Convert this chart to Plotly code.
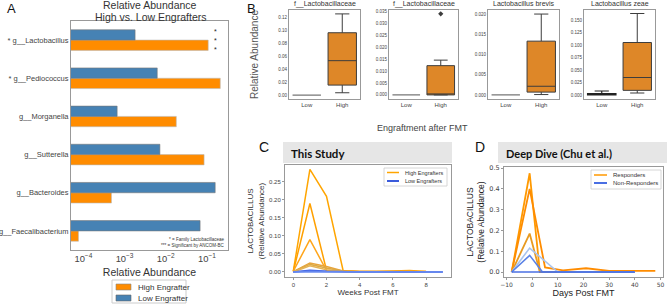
import plotly.graph_objects as go

W, H = 667, 305
def fx(p): return p / W
def fy(p): return 1 - p / H

# ---------------- Panel A data ----------------
taxa = ["g__Faecalibacterium", "g__Bacteroides", "g__Sutterella",
        "g__Morganella", "* g__Pediococcus", "* g__Lactobacillus"]
high_engrafter = [7.6e-5, 4.8e-4, 0.085, 0.018, 0.21, 0.107]
low_engrafter = [0.068, 0.158, 0.0072, 6.6e-4, 0.0062, 0.0018]
legend_a = ["High Engrafter", "Low Engrafter"]

# ---------------- Panel B data ----------------
box_titles = ["f__Lactobacillaceae", "f__Lactobacillaceae",
              "Lactobacillus brevis", "Lactobacillus zeae"]
groups = ["Low", "High"]
# [lowerfence, q1, median, q3, upperfence]
low_stats = [[0, 0, 0, 0, 0], [0, 0, 0, 0, 0], [0, 0, 0, 0, 0],
             [0, 0.0002, 0.001, 0.003, 0.008]]
high_stats = [[0.0036, 0.0154, 0.053, 0.096, 0.125],
              [0.0, 0.0, 0.0003, 0.0122, 0.0145],
              [0.0001, 0.0007, 0.00215, 0.0133, 0.020],
              [0.004, 0.0093, 0.035, 0.105, 0.163]]
high_outliers = [[], [0.0338], [], []]
box_yranges = [[-0.006, 0.131], [-0.0017, 0.0354], [-0.001, 0.021], [-0.008, 0.17]]
box_dticks = [0.02, 0.005, 0.005, 0.025]
box_tickfmt = [".2f", ".3f", ".3f", ".3f"]

# ---------------- Panel C data ----------------
weeks = [0, 1, 2, 3, 4, 5, 6, 7, 8]
weeks_low = [0, 1, 2, 3, 4, 5, 6, 7, 8, 9]
study_high = [
    [0.002, 0.285, 0.21, 0.004, 0.001, 0.001, 0.002, 0.002, 0.001],
    [0.001, 0.19, 0.005, 0.002, 0.001, 0.001, 0.003, 0.004, 0.001],
    [0.002, 0.09, 0.004, 0.001, 0.0, 0.0, 0.001, 0.001, 0.0],
    [0.001, 0.025, 0.015, 0.003, 0.001, 0.0, 0.001, 0.001, 0.0],
    [0.001, 0.021, 0.011, 0.002, 0.0, 0.0, 0.0, 0.001, 0.0],
    [0.0, 0.017, 0.006, 0.001, 0.0, 0.0, 0.0, 0.0, 0.0],
]
study_low = [
    [0.0, 0.005, 0.002, 0.0, 0.0, 0.0, 0.0, 0.0, 0.0, 0.0],
    [0.0, 0.003, 0.001, 0.0, 0.0, 0.0, 0.0, 0.0, 0.0, 0.0],
    [0.0, 0.001, 0.0, 0.0, 0.0, 0.0, 0.0, 0.0, 0.0, 0.0],
]
legend_c = ["High Engrafters", "Low Engrafters"]

# ---------------- Panel D data ----------------
resp_days = [[-8, -1, 3, 40], [-8, -1, 5, 12, 21, 30, 48], [-8, -1, 3, 40]]
resp_vals = [[0, 0.475, 0, 0], [0, 0.40, 0.022, 0.008, 0.018, 0.005, 0.005],
             [0, 0.185, 0, 0]]
nonresp_days = [[-8, -1, 10, 40], [-8, -1, 4, 40], [-8, 40]]
nonresp_vals = [[0, 0.115, 0, 0], [0, 0.08, 0, 0], [0, 0]]
legend_d = ["Responders", "Non-Responders"]

ORANGE = "#FF8C00"
BLUE = "#4682B4"
BOX_OR = "#DE8728"
GRAY_TXT = "#444444"

fig = go.Figure()

# ---- Panel A bars
fig.add_trace(go.Bar(y=taxa, x=high_engrafter, orientation="h", name=legend_a[0],
                     marker=dict(color=ORANGE, line=dict(color="#BBBBBB", width=0.6)),
                     xaxis="x", yaxis="y", showlegend=False))
fig.add_trace(go.Bar(y=taxa, x=low_engrafter, orientation="h", name=legend_a[1],
                     marker=dict(color=BLUE, line=dict(color="#777777", width=0.6)),
                     xaxis="x", yaxis="y", showlegend=False))

# ---- Panel B boxes
for i in range(4):
    ax = str(i + 2)
    ls, hs = low_stats[i], high_stats[i]
    low_fill = "#1C2741" if i == 3 else "#888888"
    low_line = "#222222" if i == 3 else "#777777"
    fig.add_trace(go.Box(x=["Low"], lowerfence=[ls[0]], q1=[ls[1]], median=[ls[2]],
                         q3=[ls[3]], upperfence=[ls[4]], fillcolor=low_fill,
                         line=dict(color=low_line, width=1.2), width=0.8,
                         showlegend=False, xaxis="x" + ax, yaxis="y" + ax, hoverinfo="skip"))
    fig.add_trace(go.Box(x=["High"], lowerfence=[hs[0]], q1=[hs[1]], median=[hs[2]],
                         q3=[hs[3]], upperfence=[hs[4]], fillcolor=BOX_OR,
                         line=dict(color="#3D3D3D", width=1), width=0.8,
                         showlegend=False, xaxis="x" + ax, yaxis="y" + ax, hoverinfo="skip"))
    if high_outliers[i]:
        fig.add_trace(go.Scatter(x=["High"] * len(high_outliers[i]), y=high_outliers[i],
                                 mode="markers", marker=dict(symbol="diamond", size=4, color="#3D3D3D"),
                                 showlegend=False, xaxis="x" + ax, yaxis="y" + ax))

# ---- Panel C lines
high_cols = ["#FFA500", "#FFA000", "#FFA51A", "#E8A33C", "#DDAA44", "#E5B255"]
for k, v in enumerate(study_high):
    fig.add_trace(go.Scatter(x=weeks, y=v, mode="lines", name=legend_c[0],
                             line=dict(color=high_cols[k], width=1.5),
                             showlegend=False, xaxis="x6", yaxis="y6"))
low_cols = ["#3B5BDB", "#5577EE", "#6B8CEF"]
for k, v in enumerate(study_low):
    fig.add_trace(go.Scatter(x=weeks_low, y=v, mode="lines", name=legend_c[1],
                             line=dict(color=low_cols[k], width=1.5),
                             showlegend=False, xaxis="x6", yaxis="y6"))

# ---- Panel D lines
resp_cols = ["#FF9900", "#FF8C00", "#E89A20"]
for k in range(len(resp_days)):
    fig.add_trace(go.Scatter(x=resp_days[k], y=resp_vals[k], mode="lines", name=legend_d[0],
                             line=dict(color=resp_cols[k], width=1.8),
                             showlegend=False, xaxis="x7", yaxis="y7"))
nonresp_cols = ["#A9C4EE", "#5A82E6", "#4A6FE3"]
for k in range(len(nonresp_days)):
    fig.add_trace(go.Scatter(x=nonresp_days[k], y=nonresp_vals[k], mode="lines", name=legend_d[1],
                             line=dict(color=nonresp_cols[k], width=1.6),
                             showlegend=False, xaxis="x7", yaxis="y7"))

axis_line = dict(showline=True, linecolor="#999999", linewidth=1, mirror=True,
                 showgrid=False, zeroline=False, automargin=False)

layout = dict(
    width=W, height=H, margin=dict(l=0, r=0, t=0, b=0, autoexpand=False),
    paper_bgcolor="white", plot_bgcolor="white", showlegend=False,
    font=dict(family="Liberation Sans, Arial, sans-serif", color=GRAY_TXT),
    barmode="group", bargap=0.46, bargroupgap=0.0,
    xaxis=dict(domain=[fx(71), fx(228)], anchor="y", type="log", range=[-4.3, -0.49],
               dtick=1, exponentformat="power", ticks="", tickfont=dict(size=7.5, color=GRAY_TXT),
               title=dict(text="Relative Abundance", font=dict(size=10.5, color="#333333"), standoff=5),
               **axis_line),
    yaxis=dict(domain=[fy(250), fy(21)], anchor="x", type="category",
               categoryorder="array", categoryarray=taxa, ticks="",
               tickfont=dict(size=7.5, color=GRAY_TXT), range=[-0.5, 5.5], **axis_line),
)

box_x = [(289, 360), (389, 458), (488, 559), (584, 655)]
for i in range(4):
    n = i + 2
    layout["xaxis%d" % n] = dict(domain=[fx(box_x[i][0]), fx(box_x[i][1])], anchor="y%d" % n,
                                 type="category", categoryorder="array", categoryarray=groups,
                                 range=[-0.5, 1.5], ticks="", tickfont=dict(size=6, color=GRAY_TXT),
                                 **axis_line)
    layout["yaxis%d" % n] = dict(domain=[fy(99), fy(10)], anchor="x%d" % n,
                                 range=box_yranges[i], dtick=box_dticks[i], tick0=0,
                                 tickformat=box_tickfmt[i], ticks="",
                                 tickfont=dict(size=4.5, color=GRAY_TXT), **axis_line)

layout["xaxis6"] = dict(domain=[fx(285), fx(451)], anchor="y6", range=[-0.5, 9.5], dtick=2,
                        ticks="outside", ticklen=2, tickcolor="#999999",
                        tickfont=dict(size=6, color=GRAY_TXT),
                        title=dict(text="Weeks Post FMT", font=dict(size=8, color="#333333"), standoff=1),
                        **axis_line)
layout["yaxis6"] = dict(domain=[fy(277), fy(165)], anchor="x6", range=[-0.014, 0.297], dtick=0.05,
                        tickformat=".2f", ticks="outside", ticklen=2, tickcolor="#999999",
                        tickfont=dict(size=6, color=GRAY_TXT),
                        title=dict(text="LACTOBACILLUS<br>(Relative Abundance)",
                                   font=dict(size=8, color="#333333"), standoff=3),
                        **axis_line)
layout["xaxis7"] = dict(domain=[fx(504), fx(663)], anchor="y7", range=[-11, 51], dtick=10,
                        ticks="outside", ticklen=2, tickcolor="#999999",
                        tickfont=dict(family="DejaVu Sans", size=6, color=GRAY_TXT),
                        title=dict(text="Days Post FMT", font=dict(size=9, color="#222222"), standoff=1),
                        **axis_line)
layout["yaxis7"] = dict(domain=[fy(277), fy(167)], anchor="x7", range=[-0.024, 0.505], dtick=0.1,
                        tickformat=".1f", ticks="outside", ticklen=2, tickcolor="#999999",
                        tickfont=dict(family="DejaVu Sans", size=6.5, color=GRAY_TXT),
                        title=dict(text="LACTOBACILLUS<br>(Relative Abundance)",
                                   font=dict(size=8.5, color="#222222"), standoff=3),
                        **axis_line)

shapes = []
def rect(x0, y0, x1, y1, fill, line_color=None, lw=0.8):
    shapes.append(dict(type="rect", xref="paper", yref="paper", x0=fx(x0), x1=fx(x1),
                       y0=fy(y1), y1=fy(y0), fillcolor=fill,
                       line=dict(width=lw if line_color else 0, color=line_color or fill),
                       layer="above"))
def hline(x0, x1, y, color, lw):
    shapes.append(dict(type="line", xref="paper", yref="paper", x0=fx(x0), x1=fx(x1),
                       y0=fy(y), y1=fy(y), line=dict(color=color, width=lw), layer="above"))

# title bars for C and D
shapes.append(dict(type="rect", xref="paper", yref="paper", x0=fx(283), x1=fx(452), y0=fy(163), y1=fy(142),
                   fillcolor="#E6E6E6", line=dict(width=0), layer="below"))
shapes.append(dict(type="rect", xref="paper", yref="paper", x0=fx(498), x1=fx(667), y0=fy(163), y1=fy(142),
                   fillcolor="#E6E6E6", line=dict(width=0), layer="below"))

annotations = []
def ann(text, x, y, size, color="#333333", xanchor="center", yanchor="middle", family=None, angle=0):
    d = dict(text=text, x=fx(x), y=fy(y), xref="paper", yref="paper", showarrow=False,
             xanchor=xanchor, yanchor=yanchor, textangle=angle,
             font=dict(size=size, color=color))
    if family:
        d["font"]["family"] = family
    annotations.append(d)

# Legend A (box with swatches)
rect(112, 280, 186, 303, "white", "#CCCCCC", 1)
rect(116, 284, 131, 290, ORANGE, "#888888", 0.6)
rect(116, 295, 131, 301, BLUE, "#666666", 0.6)
ann(legend_a[0], 136, 287, 8, "#333333", xanchor="left")
ann(legend_a[1], 136, 298, 8, "#333333", xanchor="left")

# Legend C
rect(384, 168, 447, 186, "white", "#CCCCCC", 0.8)
hline(387, 399, 172.5, "#FFA500", 1.5)
hline(387, 399, 181, "#3B5BDB", 2)
ann(legend_c[0], 403, 172.5, 5.5, "#333333", xanchor="left")
ann(legend_c[1], 403, 181, 5.5, "#333333", xanchor="left")

# Legend D
rect(591, 170, 661, 189, "white", "#CCCCCC", 0.8)
hline(594, 607, 175, "#FF9900", 1.5)
hline(594, 607, 183, "#4A6FE3", 2)
ann(legend_d[0], 611, 175, 6, "#333333", xanchor="left")
ann(legend_d[1], 611, 183, 6, "#333333", xanchor="left")

ann("A", 5, 9, 13, "#111111", xanchor="left")
ann("B", 245, 9, 13, "#111111", xanchor="left")
ann("C", 257, 147, 14, "#111111", xanchor="left")
ann("D", 473, 147, 14, "#111111", xanchor="left")
ann("Relative Abundance", 150, 5, 10.5, "#333333")
ann("High vs. Low Engrafters", 150, 17, 10.5, "#333333")
ann("*<br>*<br>*", 215, 40, 7, "#222222")
ann("* = Family Lactobacillaceae", 226, 239, 4.5, "#333333", xanchor="right")
ann("*** = Significant by ANCOM-BC", 226, 245, 4.5, "#333333", xanchor="right")
for i in range(4):
    ann(box_titles[i], (box_x[i][0] + box_x[i][1]) / 2, 4, 7, "#333333")
ann("Relative Abundance", 255, 55, 10, "#555555", angle=-90)
ann("Engraftment after FMT", 422, 128, 9, "#444444")
ann("<b>This Study</b>", 289, 153, 11.5, "#111111", xanchor="left", family="Lato, sans-serif")
ann("<b>Deep Dive (Chu et al.)</b>", 504, 153, 11, "#111111", xanchor="left", family="Lato, sans-serif")

layout["shapes"] = shapes
layout["annotations"] = annotations
fig.update_layout(**layout)
fig.write_html("out.html", config={"displayModeBar": False},
               post_script="document.body.style.margin='0px';document.body.style.padding='0px';")
